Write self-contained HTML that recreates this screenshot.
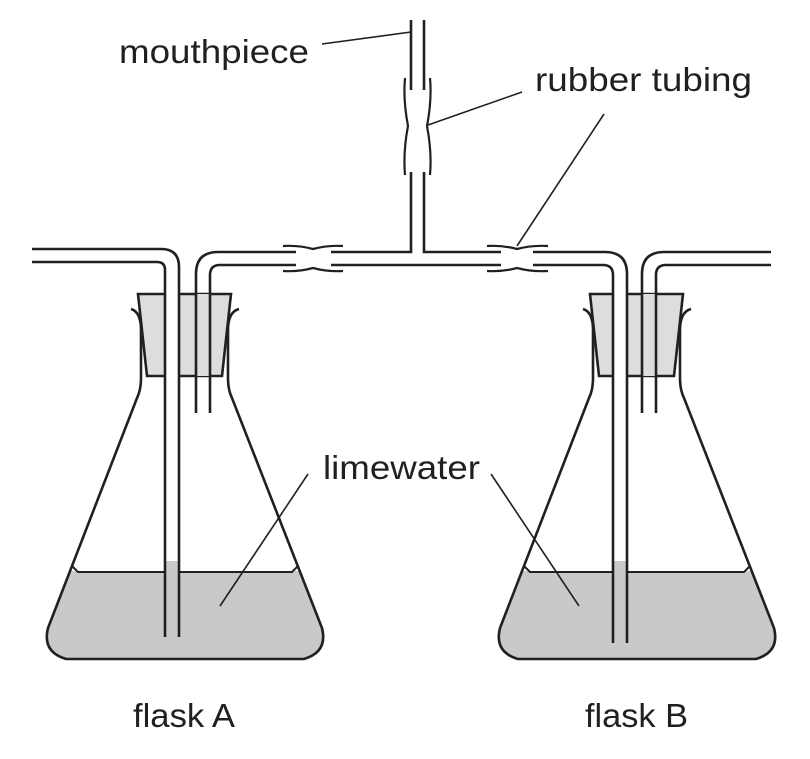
<!DOCTYPE html>
<html><head><meta charset="utf-8"><style>html,body{margin:0;padding:0;background:#fff}svg{display:block}</style></head>
<body>
<svg width="810" height="759" viewBox="0 0 810 759" xmlns="http://www.w3.org/2000/svg">
<defs>
  <clipPath id="cf"><path d="M141,320 L141,378 Q141,390 137,398 L48,628 Q42,652 66,659 L304,659 Q328,652 322,628 L232,398 Q228,390 228,378 L228,320 Z"/></clipPath>
</defs>
<g fill="none" stroke="#231f20" stroke-width="2.6" stroke-linecap="butt">
  <!-- Flask A -->
  <g>
    <rect x="40" y="571" width="290" height="95" fill="#c8c9cb" stroke="none" clip-path="url(#cf)"/>
    <path d="M131,309 Q141,312 141,330 L141,378 Q141,390 137,398 L48,628 Q42,652 66,659 L304,659 Q328,652 322,628 L232,398 Q228,390 228,378 L228,330 Q228,312 239,309"/>
    <path d="M72,566 L78,572 L292,572 L298,566" stroke-width="2"/>
    <path d="M138,294 L231,294 L222,376 L147,376 Z" fill="#dcdddf"/>
    <rect x="165" y="290" width="14" height="271" fill="#fff" stroke="none"/>
    <rect x="165" y="561" width="14" height="76" fill="#c8c9cb" stroke="none"/>
    <rect x="196" y="294" width="14" height="82" fill="#dcdddf" stroke="none"/>
  </g>
  <path d="M32,249 L161,249 Q179,249 179,267 L179,637"/>
  <path d="M32,262 L157,262 Q165,262 165,270 L165,637"/>
  <path d="M196,413 L196,274 Q196,252 218,252 L296,252"/>
  <path d="M210,413 L210,275 Q210,265 220,265 L296,265"/>
  <!-- Flask B -->
  <g transform="translate(452,0)">
    <rect x="40" y="571" width="290" height="95" fill="#c8c9cb" stroke="none" clip-path="url(#cf)"/>
    <path d="M131,309 Q141,312 141,330 L141,378 Q141,390 137,398 L48,628 Q42,652 66,659 L304,659 Q328,652 322,628 L232,398 Q228,390 228,378 L228,330 Q228,312 239,309"/>
    <path d="M72,566 L78,572 L292,572 L298,566" stroke-width="2"/>
    <path d="M138,294 L231,294 L222,376 L147,376 Z" fill="#dcdddf"/>
    <rect x="161" y="290" width="14" height="271" fill="#fff" stroke="none"/>
    <rect x="161" y="561" width="14" height="82" fill="#c8c9cb" stroke="none"/>
    <rect x="190" y="294" width="14" height="82" fill="#dcdddf" stroke="none"/>
  </g>
  <path d="M533,252 L605,252 Q627,252 627,274 L627,643"/>
  <path d="M533,265 L603,265 Q613,265 613,275 L613,643"/>
  <path d="M642,413 L642,274 Q642,252 664,252 L771,252"/>
  <path d="M656,413 L656,275 Q656,265 666,265 L771,265"/>
  <!-- middle horizontal and T -->
  <path d="M331,252 L411,252 L411,172"/>
  <path d="M424,172 L424,252 L501,252"/>
  <path d="M331,265 L501,265"/>
  <path d="M411,90 L411,20 M424,20 L424,90"/>
  <!-- rubber tubing -->
  <path d="M283,246 Q298,245 313,249 Q328,245 343,246" stroke-width="2.2"/>
  <path d="M283,271 Q298,272 313,268 Q328,272 343,271" stroke-width="2.2"/>
  <path d="M487,246 Q502,245 517,249 Q532,245 548,246" stroke-width="2.2"/>
  <path d="M487,271 Q502,272 517,268 Q532,272 548,271" stroke-width="2.2"/>
  <path d="M405,78 Q403,100 408,126 Q403,152 405,175" stroke-width="2.2"/>
  <path d="M430,78 Q432,100 427,126 Q432,152 430,175" stroke-width="2.2"/>
  <!-- leaders -->
  <g stroke-width="1.6">
    <path d="M322,44 L411,32"/>
    <path d="M428,125 L522,92"/>
    <path d="M517,246 L604,114"/>
    <path d="M308,474 L220,606"/>
    <path d="M491,474 L579,606"/>
  </g>
</g>
<g font-family="Liberation Sans, sans-serif" font-size="33" fill="#231f20">
  <text x="119" y="63" textLength="190" lengthAdjust="spacingAndGlyphs">mouthpiece</text>
  <text x="535" y="91" textLength="217" lengthAdjust="spacingAndGlyphs">rubber tubing</text>
  <text x="323" y="479" textLength="157" lengthAdjust="spacingAndGlyphs">limewater</text>
  <text x="133" y="727" textLength="102" lengthAdjust="spacingAndGlyphs">flask A</text>
  <text x="585" y="727" textLength="103" lengthAdjust="spacingAndGlyphs">flask B</text>
</g>
</svg>
</body></html>
